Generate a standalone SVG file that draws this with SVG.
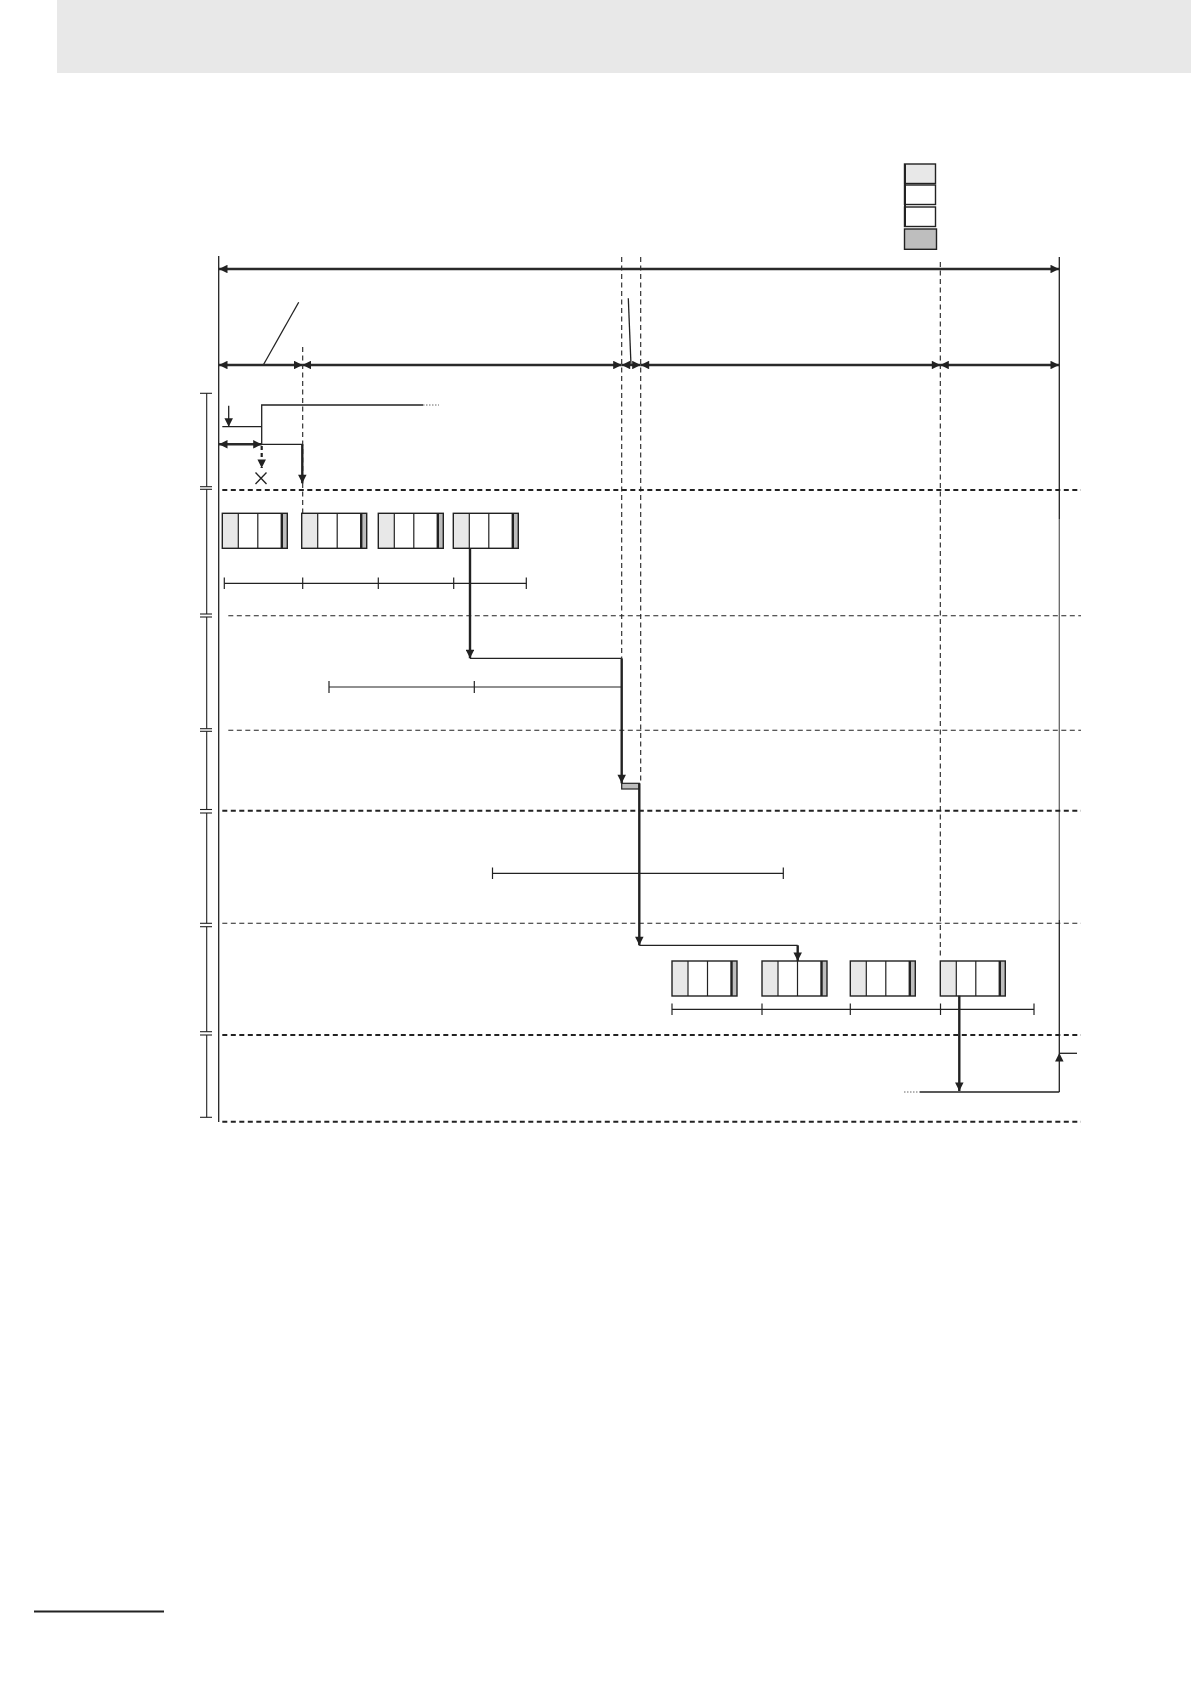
<svg xmlns="http://www.w3.org/2000/svg" xmlns:xlink="http://www.w3.org/1999/xlink" width="1191" height="1684" viewBox="0 0 1191 1684">
<style>
.ln{stroke:#222;stroke-width:1.3;fill:none}
.th{stroke:#222;stroke-width:2.4;fill:none}
.dim{stroke:#2a2a2a;stroke-width:2.4;fill:none}
.dsh{stroke:#222;stroke-width:2;stroke-dasharray:5 3.5;fill:none}
.dsl{stroke:#222;stroke-width:1.1;stroke-dasharray:5 3.5;fill:none}
.dsv{stroke:#222;stroke-width:1.1;stroke-dasharray:5 3.5;fill:none}
.tk{stroke:#222;stroke-width:1.2}
</style>
<defs>
<marker id="ah" viewBox="0 0 10 10" refX="10" refY="5" markerWidth="10" markerHeight="8.5" orient="auto-start-reverse" markerUnits="userSpaceOnUse"><path d="M0,0 L10,5 L0,10 z" fill="#222"/></marker>
<g id="buf">
<rect x="0" y="0" width="16" height="35" fill="#e8e8e8"/>
<rect x="59.5" y="0" width="5.5" height="35" fill="#bdbdbd"/>
<rect x="0" y="0" width="65" height="35" fill="none" stroke="#222" stroke-width="1.4"/>
<line x1="16" y1="0" x2="16" y2="35" class="tk"/>
<line x1="35.5" y1="0" x2="35.5" y2="35" class="tk"/>
<line x1="59.5" y1="0" x2="59.5" y2="35" stroke="#222" stroke-width="2.4"/>
</g>
</defs>
<rect width="1191" height="1684" fill="#fff"/>
<rect id="header" x="57" y="0" width="1134" height="73" fill="#e8e8e8"/>
<line id="footer-rule" x1="34" y1="1611.5" x2="164" y2="1611.5" stroke="#222" stroke-width="2.2"/>

<g id="legend">
<rect x="904.5" y="164" width="31" height="19.5" fill="#e8e8e8" stroke="#222" stroke-width="1.4"/>
<rect x="904.5" y="185" width="31" height="19.5" fill="#fff" stroke="#222" stroke-width="1.4"/>
<rect x="904.5" y="207" width="31" height="19.5" fill="#fff" stroke="#222" stroke-width="1.4"/>
<rect x="904.5" y="229" width="32" height="20.3" fill="#bebebe" stroke="#222" stroke-width="1.4"/>
<line x1="905" y1="164" x2="905" y2="226.5" stroke="#222" stroke-width="2"/>
</g>

<g id="frame">
<line x1="218.7" y1="256" x2="218.7" y2="1122" class="ln"/>
<line x1="1059.3" y1="257" x2="1059.3" y2="519" class="ln"/>
<line x1="1059.3" y1="519" x2="1059.3" y2="920" stroke="#666" stroke-width="1.3"/>
<line x1="1059.3" y1="920" x2="1059.3" y2="1053" class="ln"/>
<g stroke="#222" stroke-width="1.1">
<line x1="206.7" y1="393.3" x2="206.7" y2="486.7"/>
<line x1="206.7" y1="489.3" x2="206.7" y2="614"/>
<line x1="206.7" y1="617" x2="206.7" y2="728.7"/>
<line x1="206.7" y1="731.3" x2="206.7" y2="809.5"/>
<line x1="206.7" y1="813" x2="206.7" y2="923.3"/>
<line x1="206.7" y1="926.7" x2="206.7" y2="1031.7"/>
<line x1="206.7" y1="1035" x2="206.7" y2="1117.3"/>
<line x1="200" y1="393.3" x2="212" y2="393.3"/>
<line x1="200" y1="486.7" x2="212" y2="486.7"/><line x1="200" y1="489.3" x2="212" y2="489.3"/>
<line x1="200" y1="614" x2="212" y2="614"/><line x1="200" y1="617" x2="212" y2="617"/>
<line x1="200" y1="728.7" x2="212" y2="728.7"/><line x1="200" y1="731.3" x2="212" y2="731.3"/>
<line x1="200" y1="809.5" x2="212" y2="809.5"/><line x1="200" y1="813" x2="212" y2="813"/>
<line x1="200" y1="923.3" x2="212" y2="923.3"/><line x1="200" y1="926.7" x2="212" y2="926.7"/>
<line x1="200" y1="1031.7" x2="212" y2="1031.7"/><line x1="200" y1="1035" x2="212" y2="1035"/>
<line x1="200" y1="1117.3" x2="212" y2="1117.3"/>
</g>
<line x1="222.3" y1="490" x2="1081" y2="490" class="dsh"/>
<line x1="228.3" y1="615.7" x2="1081" y2="615.7" class="dsl"/>
<line x1="228.3" y1="730.3" x2="1081" y2="730.3" class="dsl"/>
<line x1="222.3" y1="810.7" x2="1081" y2="810.7" class="dsh"/>
<line x1="222.3" y1="923.3" x2="1081" y2="923.3" class="dsl"/>
<line x1="222.3" y1="1035" x2="1081" y2="1035" class="dsh"/>
<line x1="222.3" y1="1121.7" x2="1081" y2="1121.7" class="dsh"/>
<line x1="302.7" y1="347" x2="302.7" y2="513" class="dsv"/>
<line x1="621.7" y1="257" x2="621.7" y2="658" class="dsv"/>
<line x1="640.7" y1="257" x2="640.7" y2="783" class="dsv"/>
<line x1="940.3" y1="262" x2="940.3" y2="958" class="dsv"/>
<line x1="298.7" y1="302.3" x2="263.3" y2="365" class="ln"/>
<line x1="628.3" y1="298.3" x2="631" y2="365" class="ln"/>
</g>

<g id="dimensions">
<line x1="219" y1="269" x2="1059" y2="269" class="dim" marker-start="url(#ah)" marker-end="url(#ah)"/>
<line x1="219" y1="365" x2="302.5" y2="365" class="dim" marker-start="url(#ah)" marker-end="url(#ah)"/>
<line x1="302.5" y1="365" x2="621.7" y2="365" class="dim" marker-start="url(#ah)" marker-end="url(#ah)"/>
<line x1="621.7" y1="365" x2="640.7" y2="365" class="dim" marker-start="url(#ah)" marker-end="url(#ah)"/>
<line x1="640.7" y1="365" x2="940.3" y2="365" class="dim" marker-start="url(#ah)" marker-end="url(#ah)"/>
<line x1="940.3" y1="365" x2="1059" y2="365" class="dim" marker-start="url(#ah)" marker-end="url(#ah)"/>
<g stroke="#222" stroke-width="1.2">
<line x1="224.3" y1="583.3" x2="526.3" y2="583.3"/>
<line x1="224.3" y1="577.5" x2="224.3" y2="589"/>
<line x1="302.7" y1="577.5" x2="302.7" y2="589"/>
<line x1="378.3" y1="577.5" x2="378.3" y2="589"/>
<line x1="453.7" y1="577.5" x2="453.7" y2="589"/>
<line x1="526.3" y1="577.5" x2="526.3" y2="589"/>
<line x1="329" y1="687" x2="621.7" y2="687"/>
<line x1="329" y1="681" x2="329" y2="693"/>
<line x1="474.3" y1="681" x2="474.3" y2="693"/>
<line x1="492.5" y1="873.3" x2="783.3" y2="873.3"/>
<line x1="492.5" y1="867.5" x2="492.5" y2="879"/>
<line x1="783.3" y1="867.5" x2="783.3" y2="879"/>
<line x1="672" y1="1009.3" x2="1034" y2="1009.3"/>
<line x1="672" y1="1003.5" x2="672" y2="1015"/>
<line x1="762" y1="1003.5" x2="762" y2="1015"/>
<line x1="850.3" y1="1003.5" x2="850.3" y2="1015"/>
<line x1="940.5" y1="1003.5" x2="940.5" y2="1015"/>
<line x1="1034" y1="1003.5" x2="1034" y2="1015"/>
</g>
</g>

<g id="buffers-row1">
<g id="buf1-1"><use xlink:href="#buf" href="#buf" x="222.3" y="513.3"/></g>
<g id="buf1-2"><use xlink:href="#buf" href="#buf" x="301.7" y="513.3"/></g>
<g id="buf1-3"><use xlink:href="#buf" href="#buf" x="378.3" y="513.3"/></g>
<g id="buf1-4"><use xlink:href="#buf" href="#buf" x="453.3" y="513.3"/></g>
</g>
<g id="buffers-row2">
<g id="buf2-1"><use xlink:href="#buf" href="#buf" x="672" y="961"/></g>
<g id="buf2-2"><use xlink:href="#buf" href="#buf" x="762" y="961"/></g>
<g id="buf2-3"><use xlink:href="#buf" href="#buf" x="850.3" y="961"/></g>
<g id="buf2-4"><use xlink:href="#buf" href="#buf" x="940.3" y="961"/></g>
</g>
<g id="transfer-block">
<rect x="621.7" y="783.3" width="17.6" height="5.7" fill="#bdbdbd" stroke="#222" stroke-width="1.2"/>
</g>

<g id="connectors">
<polyline points="423,405 261.7,405 261.7,444.3 302.3,444.3" class="ln"/>
<line x1="423" y1="405" x2="439" y2="405" stroke="#666" stroke-width="1" stroke-dasharray="1.5 1.5"/>
<line x1="228.7" y1="405.7" x2="228.7" y2="426.7" class="ln" marker-end="url(#ah)"/>
<line x1="222.3" y1="426.7" x2="261.7" y2="426.7" class="ln"/>
<line x1="219" y1="444.3" x2="261.7" y2="444.3" class="dim" marker-start="url(#ah)" marker-end="url(#ah)"/>
<line x1="302.3" y1="444.3" x2="302.3" y2="483.3" class="th" marker-end="url(#ah)"/>
<line x1="261.7" y1="446" x2="261.7" y2="468" stroke="#222" stroke-width="2.2" stroke-dasharray="4 3" marker-end="url(#ah)"/>
<g stroke="#222" stroke-width="1.3">
<line x1="255.5" y1="472.5" x2="266.5" y2="484"/>
<line x1="266.5" y1="472.5" x2="255.5" y2="484"/>
</g>
<line x1="470" y1="548.3" x2="470" y2="658.3" class="th" marker-end="url(#ah)"/>
<line x1="470" y1="658.3" x2="621.7" y2="658.3" class="ln"/>
<line x1="621.7" y1="658.3" x2="621.7" y2="783.3" class="th" marker-end="url(#ah)"/>
<line x1="639.3" y1="783.3" x2="639.3" y2="945.3" class="th" marker-end="url(#ah)"/>
<line x1="639.3" y1="945.3" x2="797.7" y2="945.3" class="ln"/>
<line x1="797.7" y1="945.3" x2="797.7" y2="961" class="th" marker-end="url(#ah)"/>
<line x1="959.3" y1="995.7" x2="959.3" y2="1091" class="th" marker-end="url(#ah)"/>
<line x1="904" y1="1092" x2="920" y2="1092" stroke="#666" stroke-width="1" stroke-dasharray="1.5 1.5"/>
<line x1="920" y1="1092" x2="1059.3" y2="1092" class="ln"/>
<line x1="1059.3" y1="1092" x2="1059.3" y2="1053" class="ln" marker-end="url(#ah)"/>
<line x1="1059.3" y1="1053.3" x2="1077" y2="1053.3" class="ln"/>
</g>
</svg>
